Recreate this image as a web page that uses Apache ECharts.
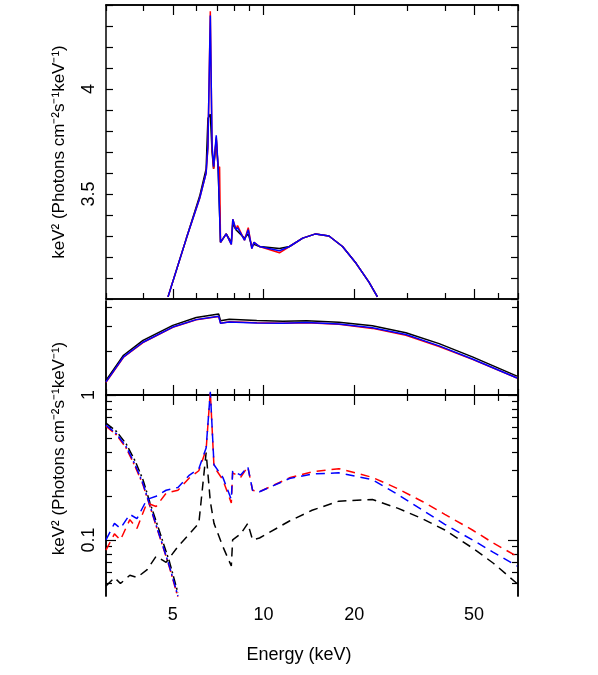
<!DOCTYPE html>
<html>
<head>
<meta charset="utf-8">
<script src="https://cdn.jsdelivr.net/npm/echarts@6/dist/echarts.min.js"></script>
<style>html,body{margin:0;padding:0;background:#fff}#container{width:598px;height:675px}</style>
</head>
<body>
<div id="container"></div>
<script>
// energies (keV) and model values
var topE = [4.82, 5.55, 6.14, 6.45, 6.54, 6.66, 6.75, 6.83, 6.97, 7.07, 7.15, 7.2, 7.52, 7.82, 7.91, 8.1, 8.2, 8.65, 8.9, 9.15, 9.3, 9.7, 11.3, 12.2, 13.5, 14.9, 16.5, 18.3, 20.3, 22.4, 23.9];
var topBlack = [3.01, 3.29, 3.49, 3.62, 3.86, 3.88, 3.70, 3.62, 3.76, 3.62, 3.62, 3.27, 3.31, 3.27, 3.36, 3.33, 3.33, 3.29, 3.31, 3.25, 3.26, 3.25, 3.24, 3.25, 3.29, 3.31, 3.30, 3.25, 3.17, 3.08, 3.01];
var topRed = [3.01, 3.29, 3.48, 3.60, 3.72, 4.37, 3.72, 3.62, 3.77, 3.62, 3.63, 3.27, 3.31, 3.26, 3.38, 3.33, 3.35, 3.28, 3.34, 3.24, 3.27, 3.25, 3.22, 3.25, 3.29, 3.31, 3.30, 3.25, 3.17, 3.08, 3.01];
var topBlue = [3.01, 3.29, 3.48, 3.60, 3.73, 4.35, 3.73, 3.63, 3.78, 3.63, 3.63, 3.27, 3.31, 3.26, 3.38, 3.33, 3.34, 3.28, 3.33, 3.24, 3.27, 3.25, 3.23, 3.25, 3.29, 3.31, 3.30, 3.25, 3.17, 3.08, 3.01];

var totE = [3.0, 3.43, 3.98, 5.0, 5.98, 7.1, 7.2, 7.7, 9.5, 11.6, 13.9, 17.8, 23, 29.7, 38.3, 49.4, 69.5];
var totBlack = [1.26, 1.88, 2.38, 3.02, 3.42, 3.62, 3.25, 3.33, 3.27, 3.22, 3.25, 3.18, 3.0, 2.69, 2.26, 1.83, 1.35];
var totRed = [1.22, 1.82, 2.30, 2.93, 3.30, 3.48, 3.13, 3.2, 3.15, 3.12, 3.15, 3.07, 2.88, 2.58, 2.16, 1.76, 1.31];
var totBlue = [1.23, 1.83, 2.31, 2.94, 3.31, 3.49, 3.12, 3.19, 3.14, 3.13, 3.16, 3.09, 2.91, 2.61, 2.18, 1.77, 1.31];

var softE = [3.0, 3.25, 3.5, 3.75, 3.98, 4.2, 4.4, 4.65, 4.88, 5.2];
var softBlack = [0.64, 0.56, 0.46, 0.35, 0.26, 0.18, 0.135, 0.095, 0.07, 0.043];
var softRed = [0.61, 0.53, 0.43, 0.32, 0.24, 0.17, 0.125, 0.088, 0.064, 0.04];
var softBlue = [0.62, 0.54, 0.44, 0.33, 0.245, 0.172, 0.127, 0.089, 0.065, 0.041];

var hardE = [3.0, 3.2, 3.35, 3.6, 3.8, 4.1, 4.4, 4.75, 5.2, 5.68, 6.1, 6.45, 6.66, 6.85, 7.33, 7.82, 7.9, 8.4, 8.87, 9.2, 9.7, 12.2, 14.5, 17.8, 23, 28, 33.7, 40, 49.4, 58, 69.5];
var hardRed = [0.085, 0.11, 0.1, 0.138, 0.12, 0.18, 0.17, 0.21, 0.22, 0.268, 0.3, 0.42, 1.05, 0.32, 0.26, 0.18, 0.29, 0.27, 0.32, 0.22, 0.215, 0.268, 0.295, 0.31, 0.27, 0.225, 0.184, 0.15, 0.117, 0.095, 0.077];
var hardBlue = [0.1, 0.13, 0.12, 0.15, 0.14, 0.19, 0.2, 0.22, 0.23, 0.28, 0.31, 0.43, 1.05, 0.33, 0.27, 0.19, 0.3, 0.28, 0.32, 0.22, 0.215, 0.265, 0.285, 0.29, 0.26, 0.205, 0.161, 0.128, 0.1, 0.082, 0.066];
var hardBlack = [0.048, 0.055, 0.05, 0.057, 0.055, 0.062, 0.077, 0.07, 0.09, 0.11, 0.13, 0.4, 0.184, 0.13, 0.09, 0.066, 0.1, 0.11, 0.13, 0.1, 0.103, 0.135, 0.16, 0.185, 0.19, 0.165, 0.14, 0.117, 0.088, 0.069, 0.05];

var xMajor = [5, 10, 20, 50];
var xMinor = [3, 4, 6, 7, 8, 9, 30, 40, 60, 70];
var yLogMajor = [0.1, 1];
var yLogMinor = [0.05, 0.06, 0.07, 0.08, 0.09, 0.2, 0.3, 0.4, 0.5, 0.6, 0.7, 0.8, 0.9, 2, 3, 4];
var topTickLabels = [3.5, 4];

var lg = Math.log10;
function pairs(xs, ys, logY) {
    return xs.map(function (x, i) { return [lg(x), logY ? lg(ys[i]) : ys[i]]; });
}
function L(v) { return v.map(lg); }

var font = 'Liberation Sans';
var yName = 'keV\u00b2 (Photons cm\u207b\u00b2s\u207b\u00b9keV\u207b\u00b9)';

function xAx(grid, pos, ticks, len, labels) {
    return {
        type: 'value', gridIndex: grid, position: pos, min: lg(3), max: lg(70),
        axisLine: { show: true, lineStyle: { color: '#000', width: 1.5 } },
        axisTick: { show: true, inside: true, length: len, customValues: L(ticks), lineStyle: { color: '#000', width: 1.2 } },
        axisLabel: labels ? { show: true, customValues: L(ticks), formatter: function (v) { return String(Math.round(Math.pow(10, v))); }, color: '#000', fontFamily: font, fontSize: 18, margin: 10 } : { show: false },
        splitLine: { show: false }
    };
}
function yLog(pos, ticks, len, labels, name) {
    return {
        type: 'value', gridIndex: 1, position: pos, min: lg(0.041), max: lg(4.45),
        axisLine: { show: true, lineStyle: { color: '#000', width: 1.5 } },
        axisTick: { show: true, inside: true, length: len, customValues: L(ticks), lineStyle: { color: '#000', width: 1.2 } },
        axisLabel: labels ? { show: true, customValues: L(ticks), rotate: 90, formatter: function (v) { return String(Math.round(Math.pow(10, v) * 10) / 10); }, color: '#000', fontFamily: font, fontSize: 18, margin: 8 } : { show: false },
        splitLine: { show: false },
        name: name || '', nameLocation: 'middle', nameGap: 38, nameRotate: 90,
        nameTextStyle: { color: '#000', fontFamily: font, fontSize: 17 }
    };
}
function yLin(pos, labels, name) {
    return {
        type: 'value', gridIndex: 0, position: pos, min: 3.0, max: 4.4, interval: 0.1,
        axisLine: { show: true, lineStyle: { color: '#000', width: 1.5 } },
        axisTick: { show: true, inside: true, length: 7, lineStyle: { color: '#000', width: 1.2 } },
        axisLabel: labels ? { show: true, rotate: 90, color: '#000', fontFamily: font, fontSize: 18, margin: 8,
            formatter: function (v) { var r = Math.round(v * 10) / 10; return topTickLabels.indexOf(r) >= 0 ? String(r) : ''; } } : { show: false },
        splitLine: { show: false },
        name: name || '', nameLocation: 'middle', nameGap: 38, nameRotate: 90,
        nameTextStyle: { color: '#000', fontFamily: font, fontSize: 17 }
    };
}

function ser(grid, xi, yi, data, color, type) {
    return {
        type: 'line', xAxisIndex: xi, yAxisIndex: yi, data: data, symbol: 'none', silent: true,
        lineStyle: { color: color, width: 1.5, type: type || 'solid' }
    };
}
var dash = [9, 6];
var dashDot = [9, 3, 2, 3];

var myChart = echarts.init(document.getElementById('container'), null, { renderer: 'canvas' });
var option = {
    backgroundColor: '#fff',
    animation: false,
    grid: [
        { left: 106, top: 5, width: 412, height: 294 },
        { left: 106, top: 301, width: 412, height: 295 }
    ],
    xAxis: [
        xAx(0, 'bottom', xMajor, 10, false),
        xAx(0, 'top', xMajor, 10, false),
        xAx(1, 'bottom', xMajor, 10, true),
        xAx(1, 'top', xMajor, 10, false),
        xAx(0, 'bottom', xMinor, 6, false),
        xAx(0, 'top', xMinor, 6, false),
        xAx(1, 'bottom', xMinor, 6, false),
        xAx(1, 'top', xMinor, 6, false)
    ],
    yAxis: [
        yLin('left', true, yName),
        yLin('right', false),
        yLog('left', yLogMajor, 10, true, yName),
        yLog('right', yLogMajor, 10, false),
        yLog('left', yLogMinor, 6, false),
        yLog('right', yLogMinor, 6, false)
    ],
    graphic: [{
        type: 'text', left: 'center', top: 646,
        style: { text: 'Energy (keV)', fill: '#000', font: '18px "Liberation Sans"' }
    }],
    series: [
        ser(0, 0, 0, pairs(topE, topBlack), '#000'),
        ser(0, 0, 0, pairs(topE, topRed), '#ff0000'),
        ser(0, 0, 0, pairs(topE, topBlue), '#0000ff'),
        ser(1, 2, 2, pairs(totE, totBlack, true), '#000'),
        ser(1, 2, 2, pairs(totE, totRed, true), '#ff0000'),
        ser(1, 2, 2, pairs(totE, totBlue, true), '#0000ff'),
        ser(1, 2, 2, pairs(softE, softBlack, true), '#000', dashDot),
        ser(1, 2, 2, pairs(softE, softRed, true), '#ff0000', dashDot),
        ser(1, 2, 2, pairs(softE, softBlue, true), '#0000ff', dashDot),
        ser(1, 2, 2, pairs(hardE, hardBlack, true), '#000', dash),
        ser(1, 2, 2, pairs(hardE, hardRed, true), '#ff0000', dash),
        ser(1, 2, 2, pairs(hardE, hardBlue, true), '#0000ff', dash)
    ]
};
myChart.setOption(option);
window.addEventListener('resize', myChart.resize);
</script>
</body>
</html>
